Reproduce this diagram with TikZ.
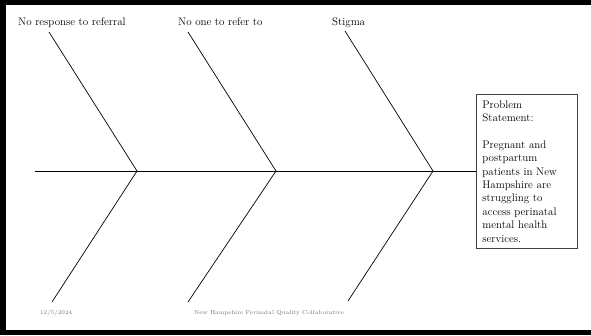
\documentclass[tikz,border=0pt]{standalone}
\usetikzlibrary{positioning}
\tikzstyle{bone}=[draw=black, line width=0.7pt]
\tikzstyle{cause}=[anchor=base west, inner sep=0pt, font=\fontsize{11}{13.4}\selectfont]
\tikzstyle{footer}=[anchor=base west, inner sep=0pt, text=black!55, font=\fontsize{5.8}{7}\selectfont]
\tikzstyle{block}=[draw=black!75, line width=0.8pt, rectangle, anchor=north west, align=left,
  text width=89pt, inner sep=6pt, minimum width=101pt, minimum height=149pt,
  font=\fontsize{11}{13.4}\selectfont]

\begin{document}
\begin{tikzpicture}[x=1pt, y=-1pt]
            \useasboundingbox (0,0) rectangle (591,335);
            \fill[black] (0,0) rectangle (591,5);
            \fill[black] (0,0) rectangle (6,335);
            \fill[black] (0,330) rectangle (591,335);
            \node[block] (problem) at (476,94) {Problem\\Statement:\\[13.4pt]Pregnant and\\postpartum\\patients in New\\Hampshire are\\struggling to\\access perinatal\\mental health\\services.};
            \coordinate (tail) at (35,171);
            \coordinate (j1) at (137,171);
            \coordinate (j2) at (276,171);
            \coordinate (j3) at (433,171);
            \coordinate (u1) at (49,32);
            \coordinate (u2) at (188,32);
            \coordinate (u3) at (345,31);
            \coordinate (l1) at (52,302);
            \coordinate (l2) at (188,302);
            \coordinate (l3) at (348,301);
            \node[cause] (noresponse) at (18,25) {No response to referral};
            \node[cause] (noone) at (178,25) {No one to refer to};
            \node[cause] (stigma) at (332,25) {Stigma};
            \draw[bone] (tail) -- (tail -| problem.west);
            \draw[bone] (u1) -- (j1) -- (l1);
            \draw[bone] (u2) -- (j2) -- (l2);
            \draw[bone] (u3) -- (j3) -- (l3);
            \node[footer] (date) at (40,314) {12/5/2024};
            \node[footer] (collab) at (194,314) {New Hampshire Perinatal Quality Collaborative};
        \end{tikzpicture}
\end{document}
